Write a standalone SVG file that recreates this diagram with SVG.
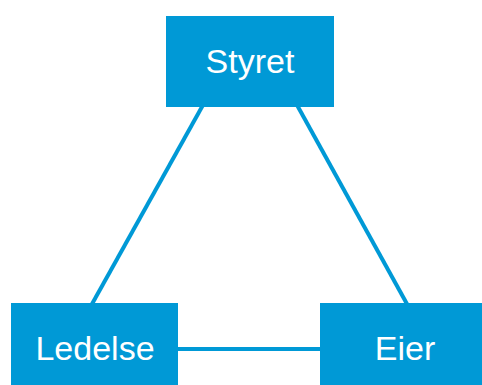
<svg xmlns="http://www.w3.org/2000/svg" width="482" height="385" viewBox="0 0 482 385">
  <style>
    .node { fill: #0099d6; }
    .label { fill: #ffffff; font-family: "Liberation Sans", Arial, sans-serif; font-size: 34px; text-anchor: middle; }
    .link { stroke: #0099d6; stroke-width: 4; fill: none; }
  </style>
  <rect width="482" height="385" fill="#ffffff"/>
  <g id="connectors">
    <line class="link" x1="203" y1="105" x2="92" y2="304"/>
    <line class="link" x1="297" y1="105" x2="407" y2="304"/>
    <line class="link" x1="176" y1="349" x2="322" y2="349"/>
  </g>
  <g id="styret">
    <rect class="node" x="166" y="16" width="168" height="91"/>
    <text class="label" x="250" y="73">Styret</text>
  </g>
  <g id="ledelse">
    <rect class="node" x="11" y="303" width="167" height="90"/>
    <text class="label" x="95" y="360">Ledelse</text>
  </g>
  <g id="eier">
    <rect class="node" x="320" y="303" width="170" height="90"/>
    <text class="label" x="405" y="360">Eier</text>
  </g>
</svg>
